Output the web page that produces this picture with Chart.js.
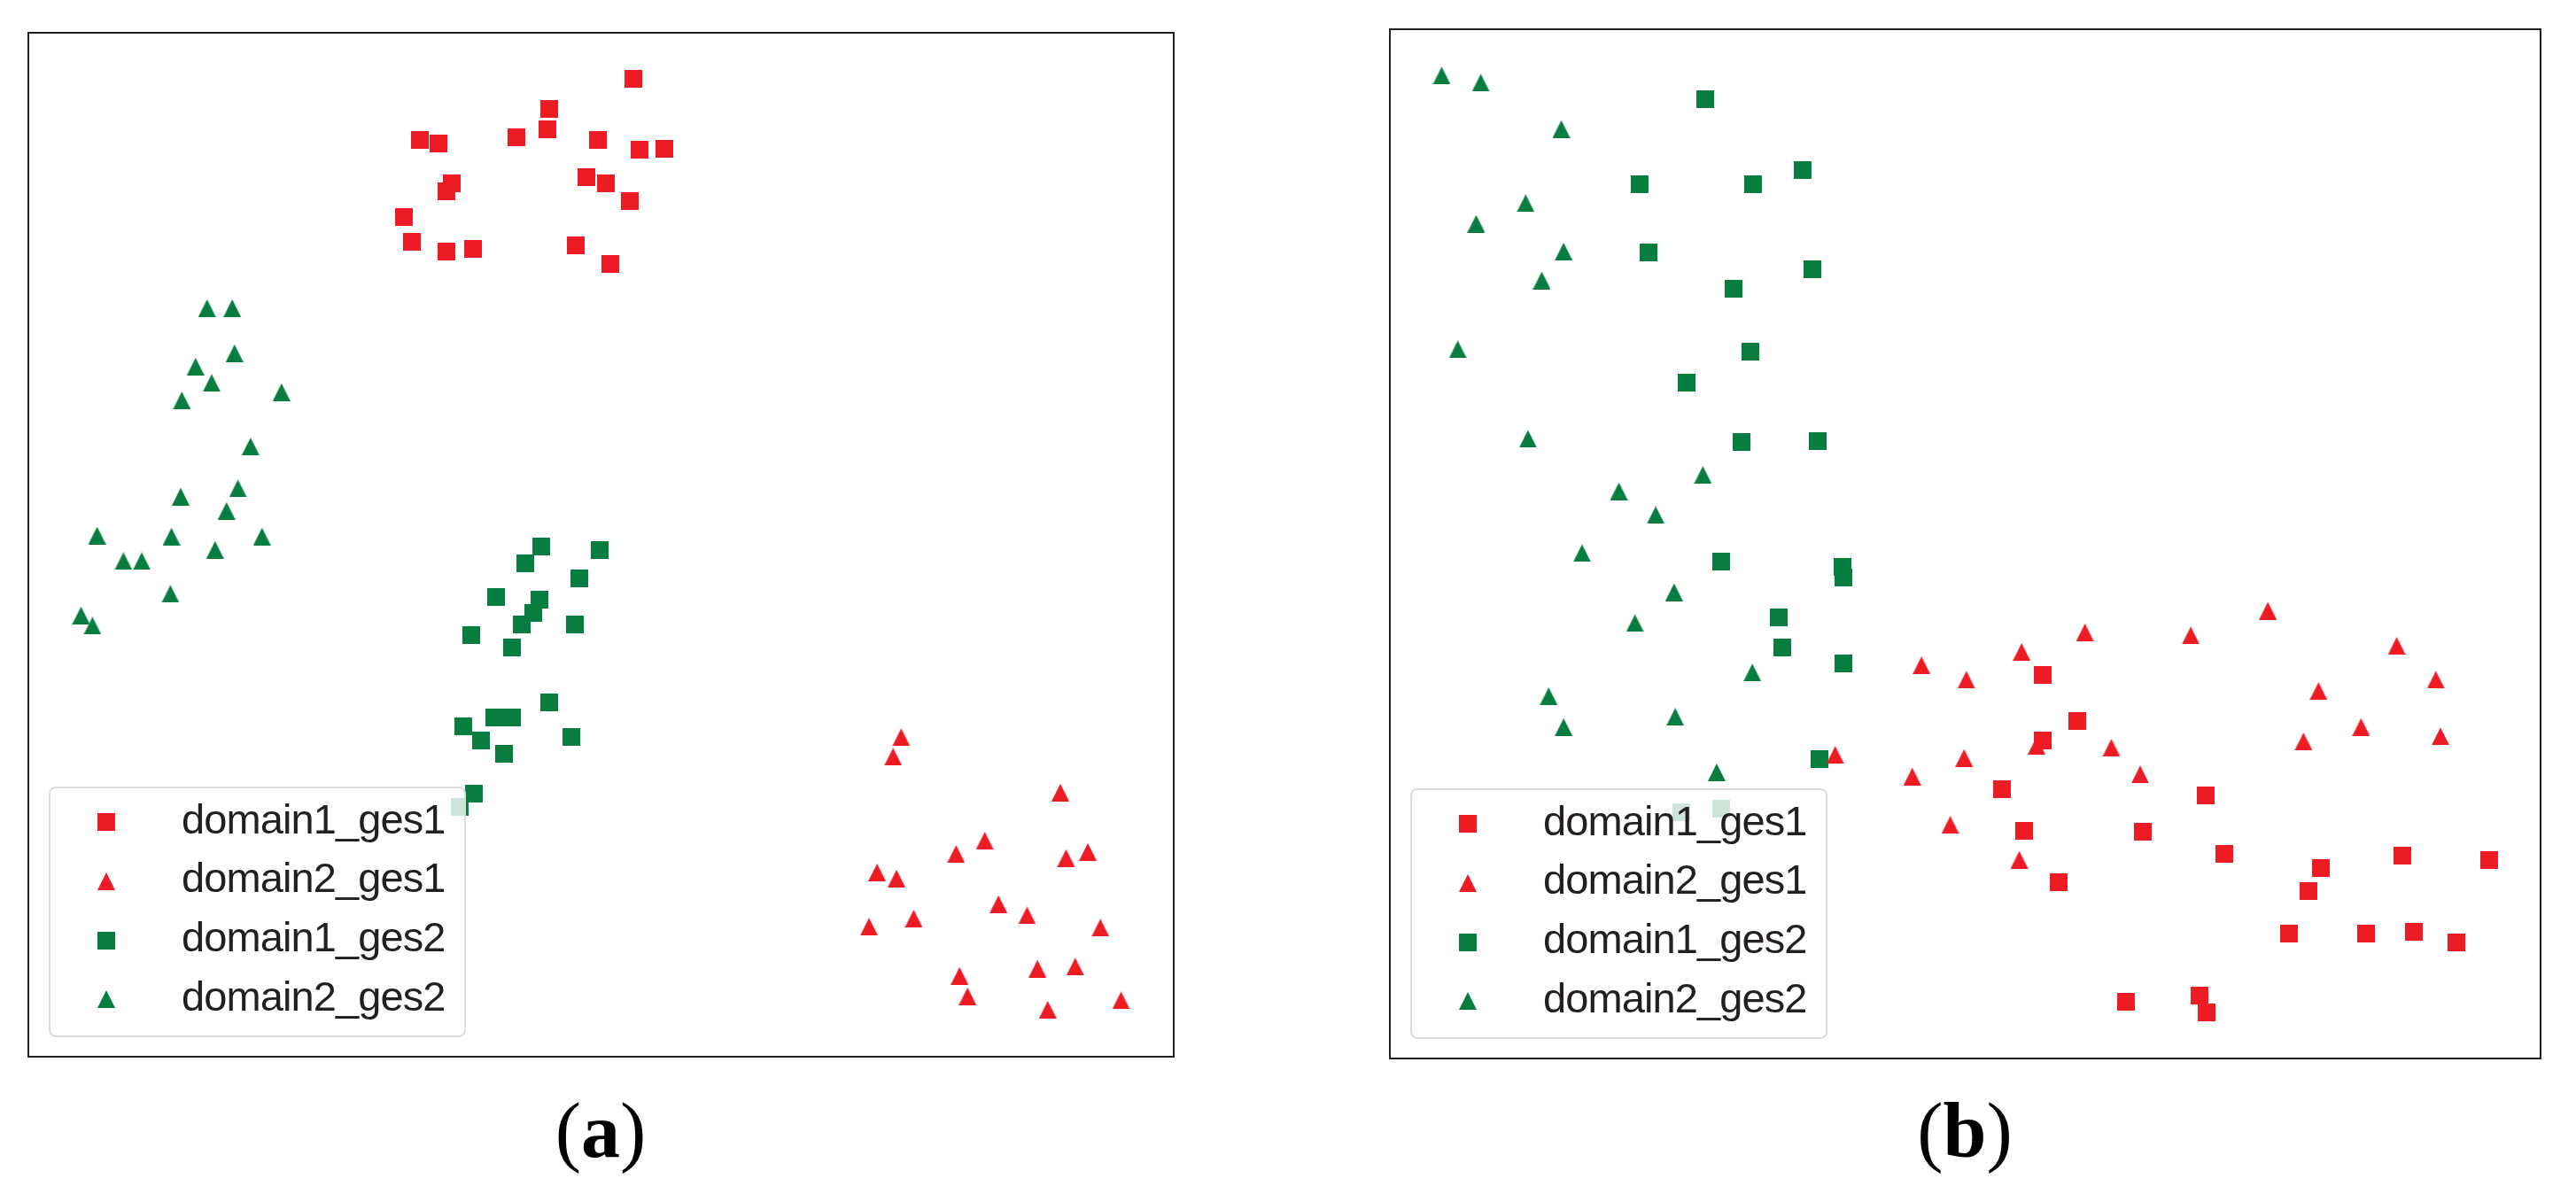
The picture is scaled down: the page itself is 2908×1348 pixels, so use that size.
<!DOCTYPE html>
<html>
<head>
<meta charset="utf-8">
<script src="https://cdn.jsdelivr.net/npm/chart.js@4.4.1/dist/chart.umd.min.js"></script>
<style>
    html, body { margin: 0; padding: 0; background: #fff; }
    #page { position: relative; width: 2908px; height: 1348px; overflow: hidden; background: #fff; }
    canvas.panel { position: absolute; }
    .legend {
        position: absolute; box-sizing: border-box; width: 471px; height: 283px;
        border: 2px solid #dcdcdc; border-radius: 8px; background: rgba(255,255,255,0.8);
        font-family: "Liberation Sans", Arial, sans-serif; font-size: 47px; color: #231f20;
    }
    .legend .row { position: absolute; left: 0; width: 100%; height: 67px; }
    .legend .row canvas { position: absolute; left: 53px; top: 23.5px; }
    .legend .row span { position: absolute; left: 148px; top: -4px; line-height: 67px; white-space: nowrap; letter-spacing: -0.9px; }
    .caption {
        position: absolute; width: 400px; text-align: center;
        font-family: "Liberation Serif", "DejaVu Serif", serif; font-size: 88px; line-height: 88px; color: #000;
    }
</style>
</head>
<body>
<div id="page"></div>
<script>
// legend / series labels
const seriesNames = ['domain1_ges1', 'domain2_ges1', 'domain1_ges2', 'domain2_ges2'];
const captions = ['(a)', '(b)'];

// panel (a), t-SNE coordinates (axis range 0..100)
const a_domain1_ges1 = [[45.5,92.6],[45.3,90.6],[34.2,89.5],[35.8,89.2],[42.6,89.8],[49.7,89.5],[37.0,85.3],[36.5,84.5],[48.7,85.9],[50.4,85.3],[32.8,82.0],[33.5,79.6],[36.5,78.6],[38.8,78.9],[47.8,79.2],[50.8,77.4],[52.8,95.5],[53.4,88.6],[55.5,88.7],[52.5,83.6]];
const a_domain2_ges1 = [[76.2,31.2],[75.5,29.3],[90.1,25.8],[83.5,21.1],[81.0,19.8],[90.6,19.4],[92.5,20.0],[74.1,18.0],[75.8,17.4],[84.7,14.9],[87.2,13.8],[73.4,12.7],[77.3,13.5],[93.6,12.6],[81.3,7.9],[88.1,8.6],[91.4,8.8],[82.0,5.9],[89.0,4.6],[95.4,5.5]];
const a_domain1_ges2 = [[44.8,49.8],[49.9,49.5],[43.4,48.2],[48.1,46.7],[40.8,44.9],[44.6,44.6],[44.1,43.3],[43.1,42.2],[47.7,42.2],[38.7,41.2],[42.2,40.0],[45.5,34.6],[40.7,33.1],[42.2,33.1],[38.0,32.3],[39.5,30.9],[47.4,31.2],[41.5,29.6],[38.9,25.7],[37.7,24.4]];
const a_domain2_ges2 = [[15.6,73.1],[17.8,73.1],[18.0,68.7],[14.6,67.4],[16.0,65.8],[13.4,64.1],[22.1,64.9],[19.4,59.6],[18.3,55.5],[13.3,54.7],[17.3,53.3],[6.0,50.9],[12.5,50.8],[20.4,50.8],[16.3,49.5],[8.3,48.4],[9.9,48.4],[12.4,45.2],[4.6,43.1],[5.6,42.1]];

// panel (b)
const b_domain1_ges1 = [[56.7,37.3],[59.7,32.8],[56.7,30.9],[53.2,26.2],[70.9,25.6],[55.1,22.1],[65.4,22.0],[72.5,19.9],[80.9,18.5],[88.0,19.7],[95.5,19.3],[58.1,17.1],[79.8,16.3],[78.1,12.1],[84.8,12.1],[89.0,12.3],[92.7,11.3],[64.0,5.5],[70.4,6.1],[71.0,4.5]];
const b_domain2_ges1 = [[46.2,38.2],[50.1,36.8],[38.7,29.5],[49.9,29.2],[45.4,27.4],[48.7,22.7],[76.3,43.5],[60.4,41.4],[69.6,41.1],[54.9,39.5],[87.5,40.1],[90.9,36.8],[80.7,35.7],[84.4,32.2],[91.3,31.3],[79.4,30.8],[56.2,30.4],[62.7,30.2],[65.2,27.6],[54.7,19.3]];
const b_domain1_ges2 = [[27.4,93.2],[21.7,84.9],[31.6,84.9],[35.9,86.3],[22.5,78.3],[36.7,76.7],[29.9,74.8],[31.3,68.7],[25.8,65.7],[30.6,59.9],[37.2,60.0],[28.8,48.3],[39.3,47.8],[39.4,46.7],[33.8,42.9],[34.1,39.9],[39.4,38.4],[37.3,29.1],[25.3,23.9],[28.8,24.3]];
const b_domain2_ges2 = [[4.5,95.5],[7.9,94.8],[14.9,90.3],[11.8,83.1],[7.5,81.1],[15.1,78.4],[13.2,75.6],[5.9,68.9],[12.0,60.2],[27.2,56.7],[19.9,55.1],[23.1,52.8],[16.7,49.1],[24.7,45.3],[21.3,42.3],[31.5,37.5],[13.8,35.2],[15.1,32.2],[24.8,33.2],[28.4,27.8]];

const RED = '#ed1c24';
const GREEN = '#077d3f';
const FRAME_COLOR = '#231f20';
const MARKER = 20;
const PAD = 20;

// colour and shape per series, same order as seriesNames
const seriesStyle = [
    { color: RED, shape: 'square' },
    { color: RED, shape: 'triangle' },
    { color: GREEN, shape: 'square' },
    { color: GREEN, shape: 'triangle' }
];

// frame (plot box) of each panel on the page, plus legend / caption placement
const panels = [
    { series: [a_domain1_ges1, a_domain2_ges1, a_domain1_ges2, a_domain2_ges2],
      frame: { left: 32, top: 37, width: 1293, height: 1156 },
      legend: { left: 55, top: 888 }, captionCenter: 678 },
    { series: [b_domain1_ges1, b_domain2_ges1, b_domain1_ges2, b_domain2_ges2],
      frame: { left: 1569, top: 33, width: 1299, height: 1162 },
      legend: { left: 1592, top: 890 }, captionCenter: 2218 }
];

function makeMarker(shape, color) {
    const c = document.createElement('canvas');
    c.width = MARKER;
    c.height = MARKER;
    const g = c.getContext('2d');
    g.fillStyle = color;
    if (shape === 'square') {
        g.fillRect(0, 0, MARKER, MARKER);
    } else {
        g.beginPath();
        g.moveTo(MARKER / 2, 0);
        g.lineTo(MARKER, MARKER);
        g.lineTo(0, MARKER);
        g.closePath();
        g.fill();
    }
    return c;
}

const framePlugin = {
    id: 'frame',
    afterDraw(chart) {
        const a = chart.chartArea;
        const ctx = chart.ctx;
        ctx.save();
        ctx.strokeStyle = FRAME_COLOR;
        ctx.lineWidth = 2;
        ctx.strokeRect(a.left, a.top, a.right - a.left, a.bottom - a.top);
        ctx.restore();
    }
};

function createPanel(page, panel, caption) {
    const f = panel.frame;
    const canvas = document.createElement('canvas');
    canvas.className = 'panel';
    canvas.width = f.width + 2 * PAD;
    canvas.height = f.height + 2 * PAD;
    canvas.style.left = (f.left - PAD) + 'px';
    canvas.style.top = (f.top - PAD) + 'px';
    page.appendChild(canvas);

    const datasets = panel.series.map((pts, i) => ({
        label: seriesNames[i],
        data: pts.map(p => ({ x: p[0], y: p[1] })),
        pointStyle: makeMarker(seriesStyle[i].shape, seriesStyle[i].color),
        pointRadius: MARKER / 2,
        pointHoverRadius: MARKER / 2,
        borderWidth: 0,
        showLine: false
    }));

    new Chart(canvas.getContext('2d'), {
        type: 'scatter',
        data: { datasets: datasets },
        options: {
            responsive: false,
            animation: false,
            events: [],
            layout: { padding: PAD },
            plugins: {
                legend: { display: false },
                tooltip: { enabled: false }
            },
            scales: {
                x: { type: 'linear', display: false, min: 0, max: 100 },
                y: { type: 'linear', display: false, min: 0, max: 100 }
            }
        },
        plugins: [framePlugin]
    });

    // legend box inside the plot, lower left
    const legend = document.createElement('div');
    legend.className = 'legend';
    legend.style.left = panel.legend.left + 'px';
    legend.style.top = panel.legend.top + 'px';
    seriesNames.forEach((name, i) => {
        const row = document.createElement('div');
        row.className = 'row';
        row.style.top = (4.5 + i * 66.8) + 'px';
        row.appendChild(makeMarker(seriesStyle[i].shape, seriesStyle[i].color));
        const label = document.createElement('span');
        label.textContent = name;
        row.appendChild(label);
        legend.appendChild(row);
    });
    page.appendChild(legend);

    const cap = document.createElement('div');
    cap.className = 'caption';
    cap.style.left = (panel.captionCenter - 200) + 'px';
    cap.style.top = '1233px';
    cap.innerHTML = '(<b>' + caption.slice(1, -1) + '</b>)';
    page.appendChild(cap);
}

window.onload = function() {
    const page = document.getElementById('page');
    panels.forEach((p, i) => createPanel(page, p, captions[i]));
};
</script>
</body>
</html>
